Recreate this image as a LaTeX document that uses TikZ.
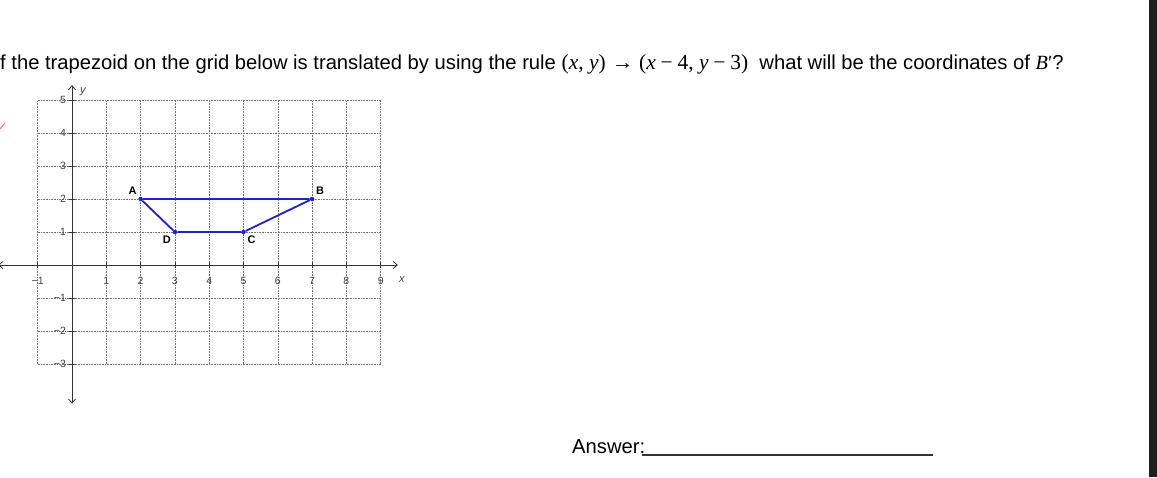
\documentclass[tikz,border=0pt]{standalone}
\usepackage{fontspec}
\setmainfont{Liberation Sans}
\newfontfamily\rmtimes{Liberation Serif}
\usetikzlibrary{arrows.meta}
\definecolor{trapblue}{RGB}{32,32,205}
\definecolor{gridgray}{RGB}{115,115,115}
\newcommand{\mv}[1]{{\rmtimes\itshape #1}}
\tikzset{
  gridline/.style={gridgray, densely dotted, line width=0.6pt},
  axisline/.style={black!80, line width=0.8pt, {Straight Barb[length=4pt,width=7pt]}-{Straight Barb[length=4pt,width=7pt]}},
  ticklab/.style={font=\fontsize{10.5}{10.5}\selectfont, text=black!75, inner sep=0pt},
  vertex/.style={circle, fill=trapblue, inner sep=0pt, minimum size=4.5pt},
  vlab/.style={font=\fontsize{11}{11}\selectfont\bfseries, inner sep=0pt, label distance=3pt},
  bigtext/.style={font=\fontsize{20.2}{24}\selectfont, inner sep=0pt, anchor=base west}
}
\begin{document}
\begin{tikzpicture}[x=1pt,y=-1pt]
\useasboundingbox (0,0) rectangle (1157,477);
\fill[white] (0,0) rectangle (1157,477);
\fill[black!88] (1149,0) rectangle (1157,477);
\draw[red!55, line width=1.2pt] (0,129) -- (5,123);
% question
\node[bigtext] (question) at (0,69)
  {f the trapezoid on the grid below is translated by using the rule
   {\rmtimes\fontsize{21.5}{24}\selectfont (\mv{x}, \mv{y})\;→\;(\mv{x}\:−\:4, \mv{y}\:−\:3)}\ \ what will be the coordinates of \mv{B}{\rmtimes ′}?};
% grid and axes
\begin{scope}[shift={(72,265)}, x=34.3pt, y=33pt]
\foreach \i in {-1,...,9} \draw[gridline] (\i,-3) -- (\i,5);
\foreach \j in {-3,...,5} \draw[gridline] (-1,\j) -- (9,\j);
\coordinate (xleft) at (-2.15,0);
\coordinate (xright) at (9.5,0);
\coordinate (ytop) at (0,5.45);
\coordinate (ybottom) at (0,-4.2);
\draw[axisline] (xleft) -- (xright);
\draw[axisline] (ybottom) -- (ytop);
\foreach \i in {-1,1,2,...,9} {
  \draw[black!80, line width=0.6pt] (\i,0.1) -- (\i,-0.1);
  \node[ticklab] (xt\i) at (\i,-0.47) {\ifnum\i<0 −\the\numexpr-\i\relax\else\i\fi};
}
\foreach \j in {-3,-2,-1,1,2,3,4,5} {
  \draw[black!80, line width=0.6pt] (-0.1,\j) -- (0.1,\j);
  \node[ticklab, anchor=east] (yt\j) at (-0.17,\j) {\ifnum\j<0 −\the\numexpr-\j\relax\else\j\fi};
}
\node[ticklab, font=\fontsize{11}{11}\selectfont\itshape] (xlab) at (9.62,-0.45) {x};
\node[ticklab, font=\fontsize{11}{11}\selectfont\itshape] (ylab) at (0.32,5.25) {y};
% trapezoid
\node[vertex, label={[vlab]above left:A}] (A) at (2,2) {};
\node[vertex, label={[vlab]above right:B}] (B) at (7,2) {};
\node[vertex, label={[vlab]below right:C}] (C) at (5,1) {};
\node[vertex, label={[vlab]below left:D}] (D) at (3,1) {};
\draw[trapblue, line width=1.8pt] (A) -- (B) -- (C) -- (D) -- (A);
\end{scope}
% answer line
\node[bigtext] (answer) at (572,453) {Answer:};
\coordinate (blankstart) at (642,455);
\coordinate (blankend) at (933,455);
\draw[black!80, line width=1.1pt] (blankstart) -- (blankend);
\end{tikzpicture}
\end{document}
